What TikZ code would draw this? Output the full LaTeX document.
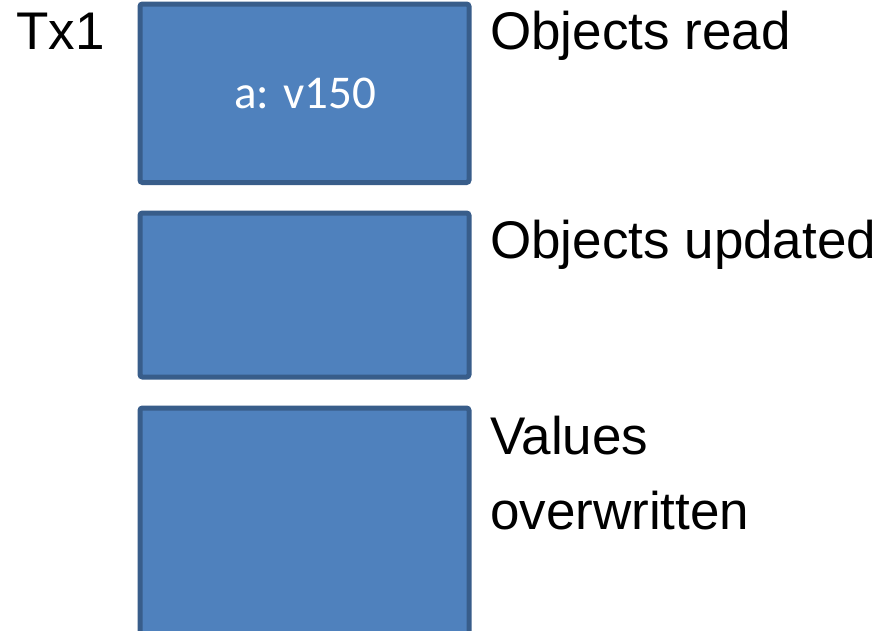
\documentclass[tikz,border=0pt]{standalone}
\usepackage{fontspec}
\setmainfont{Liberation Sans}
\newfontfamily\boxfont{Carlito}
\definecolor{boxfill}{HTML}{4F81BD}
\definecolor{boxline}{HTML}{385D8A}
\begin{document}
\begin{tikzpicture}[x=1pt,y=-1pt,
  setbox/.style={draw=boxline, fill=boxfill, line width=5pt, rounded corners=2.5pt,
    minimum width=329pt, inner sep=0pt, outer sep=0pt},
  lbl/.style={anchor=base west, inner sep=0pt, font=\fontsize{53}{63}\selectfont},
  inlbl/.style={anchor=base, inner sep=0pt, text=white, font=\boxfont\fontsize{47}{56}\selectfont}]
  \useasboundingbox (0,0) rectangle (886,630);
  \fill[white] (0,0) rectangle (886,630);

  % the three stacked sets
  \node[setbox, minimum height=178.5pt] (readset) at (304.5,93.25) {};
  \node[setbox, minimum height=164pt] (updset) at (304.5,295) {};
  \begin{scope}
    \clip (0,0) rectangle (886,630);
    \node[setbox, minimum height=292pt] (overset) at (304.5,554) {};
  \end{scope}

  % labels
  \node[lbl] (tx) at (16,49) {Tx1};
  \node[lbl] (readlbl) at (490,49) {Objects read};
  \node[lbl] (updlbl) at (490,258.5) {Objects updated};
  \node[lbl] (vallbl) at (490,454) {Values};
  \node[lbl] (owlbl) at (490,529) {overwritten};

  % contents of the read set
  \node[inlbl] (aval) at (305,108) {a: v150};
\end{tikzpicture}
\end{document}
